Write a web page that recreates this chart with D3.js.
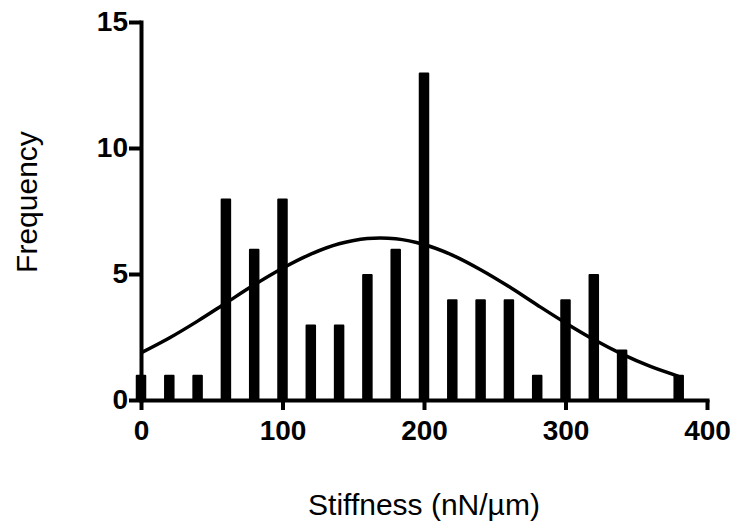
<!DOCTYPE html>
<html>
<head>
<meta charset="utf-8">
<script src="https://cdn.jsdelivr.net/npm/d3@7"></script>
<style>
  body { margin: 0; background: #fff; }
  svg { display: block; }
  .tick text { font-family: "Liberation Sans", Arial, sans-serif; font-weight: bold; font-size: 28px; }
  .title { font-family: "Liberation Sans", Arial, sans-serif; font-size: 30px; }
</style>
</head>
<body>
<svg id="chart" width="736" height="527"></svg>
<script>
// histogram bins (bin centre, nN/µm) and counts
var binCentres = [0, 20, 40, 60, 80, 100, 120, 140, 160, 180, 200, 220, 240, 260, 280, 300, 320, 340, 360, 380];
var counts = [1, 1, 1, 8, 6, 8, 3, 3, 5, 6, 13, 4, 4, 4, 1, 4, 5, 2, 0, 1];

// fitted gaussian curve
var fitX = [0, 20, 40, 60, 80, 100, 120, 140, 160, 180, 200, 220, 240, 260, 280, 300, 320, 340, 360, 380];
var fitY = [1.87, 2.46, 3.13, 3.85, 4.57, 5.23, 5.79, 6.2, 6.41, 6.4, 6.17, 5.75, 5.17, 4.5, 3.77, 3.06, 2.4, 1.82, 1.33, 0.94];

var xTicks = [0, 100, 200, 300, 400];
var yTicks = [0, 5, 10, 15];

(function histogram() {
    var svg = d3.select("#chart");

    var x = d3.scaleLinear().domain([0, 400]).range([141, 707]);
    var y = d3.scaleLinear().domain([0, 15]).range([400, 22]);

    var barW = 8.5;

    // bars
    svg.append("g")
        .selectAll("rect")
        .data(binCentres.map(function (c, i) { return { c: c, n: counts[i] }; }).filter(function (d) { return d.n > 0; }))
        .enter().append("rect")
        .attr("x", function (d) { return x(d.c) - barW / 2; })
        .attr("y", function (d) { return y(d.n) + 1; })
        .attr("width", barW)
        .attr("height", function (d) { return y(0) - y(d.n) - 1; })
        .attr("fill", "#000")
        .attr("stroke", "#000")
        .attr("stroke-width", 2)
        .attr("stroke-linejoin", "round");

    // gaussian fit
    var line = d3.line()
        .x(function (d) { return x(d[0]); })
        .y(function (d) { return y(d[1]); })
        .curve(d3.curveCatmullRom);

    svg.append("path")
        .datum(fitX.map(function (v, i) { return [v, fitY[i]]; }))
        .attr("d", line)
        .attr("fill", "none")
        .attr("stroke", "#000")
        .attr("stroke-width", 3.5);

    // axes
    var xAxis = svg.append("g")
        .attr("transform", "translate(0," + y(0) + ")")
        .call(d3.axisBottom(x).tickValues(xTicks).tickSize(10).tickPadding(10).tickSizeOuter(0));

    var yAxis = svg.append("g")
        .attr("transform", "translate(" + x(0) + ",0)")
        .call(d3.axisLeft(y).tickValues(yTicks).tickSize(12).tickPadding(1).tickSizeOuter(0));

    [xAxis, yAxis].forEach(function (a) {
        a.select(".domain").attr("stroke-width", 4).attr("stroke-linecap", "square");
        a.selectAll(".tick line").attr("stroke-width", 4);
        a.selectAll(".tick text").attr("fill", "#000");
    });

    // titles
    svg.append("text")
        .attr("class", "title")
        .attr("x", 424)
        .attr("y", 515)
        .attr("text-anchor", "middle")
        .text("Stiffness (nN/µm)");

    svg.append("text")
        .attr("class", "title")
        .attr("transform", "translate(37,202) rotate(-90)")
        .attr("text-anchor", "middle")
        .text("Frequency");
}());
</script>
</body>
</html>
